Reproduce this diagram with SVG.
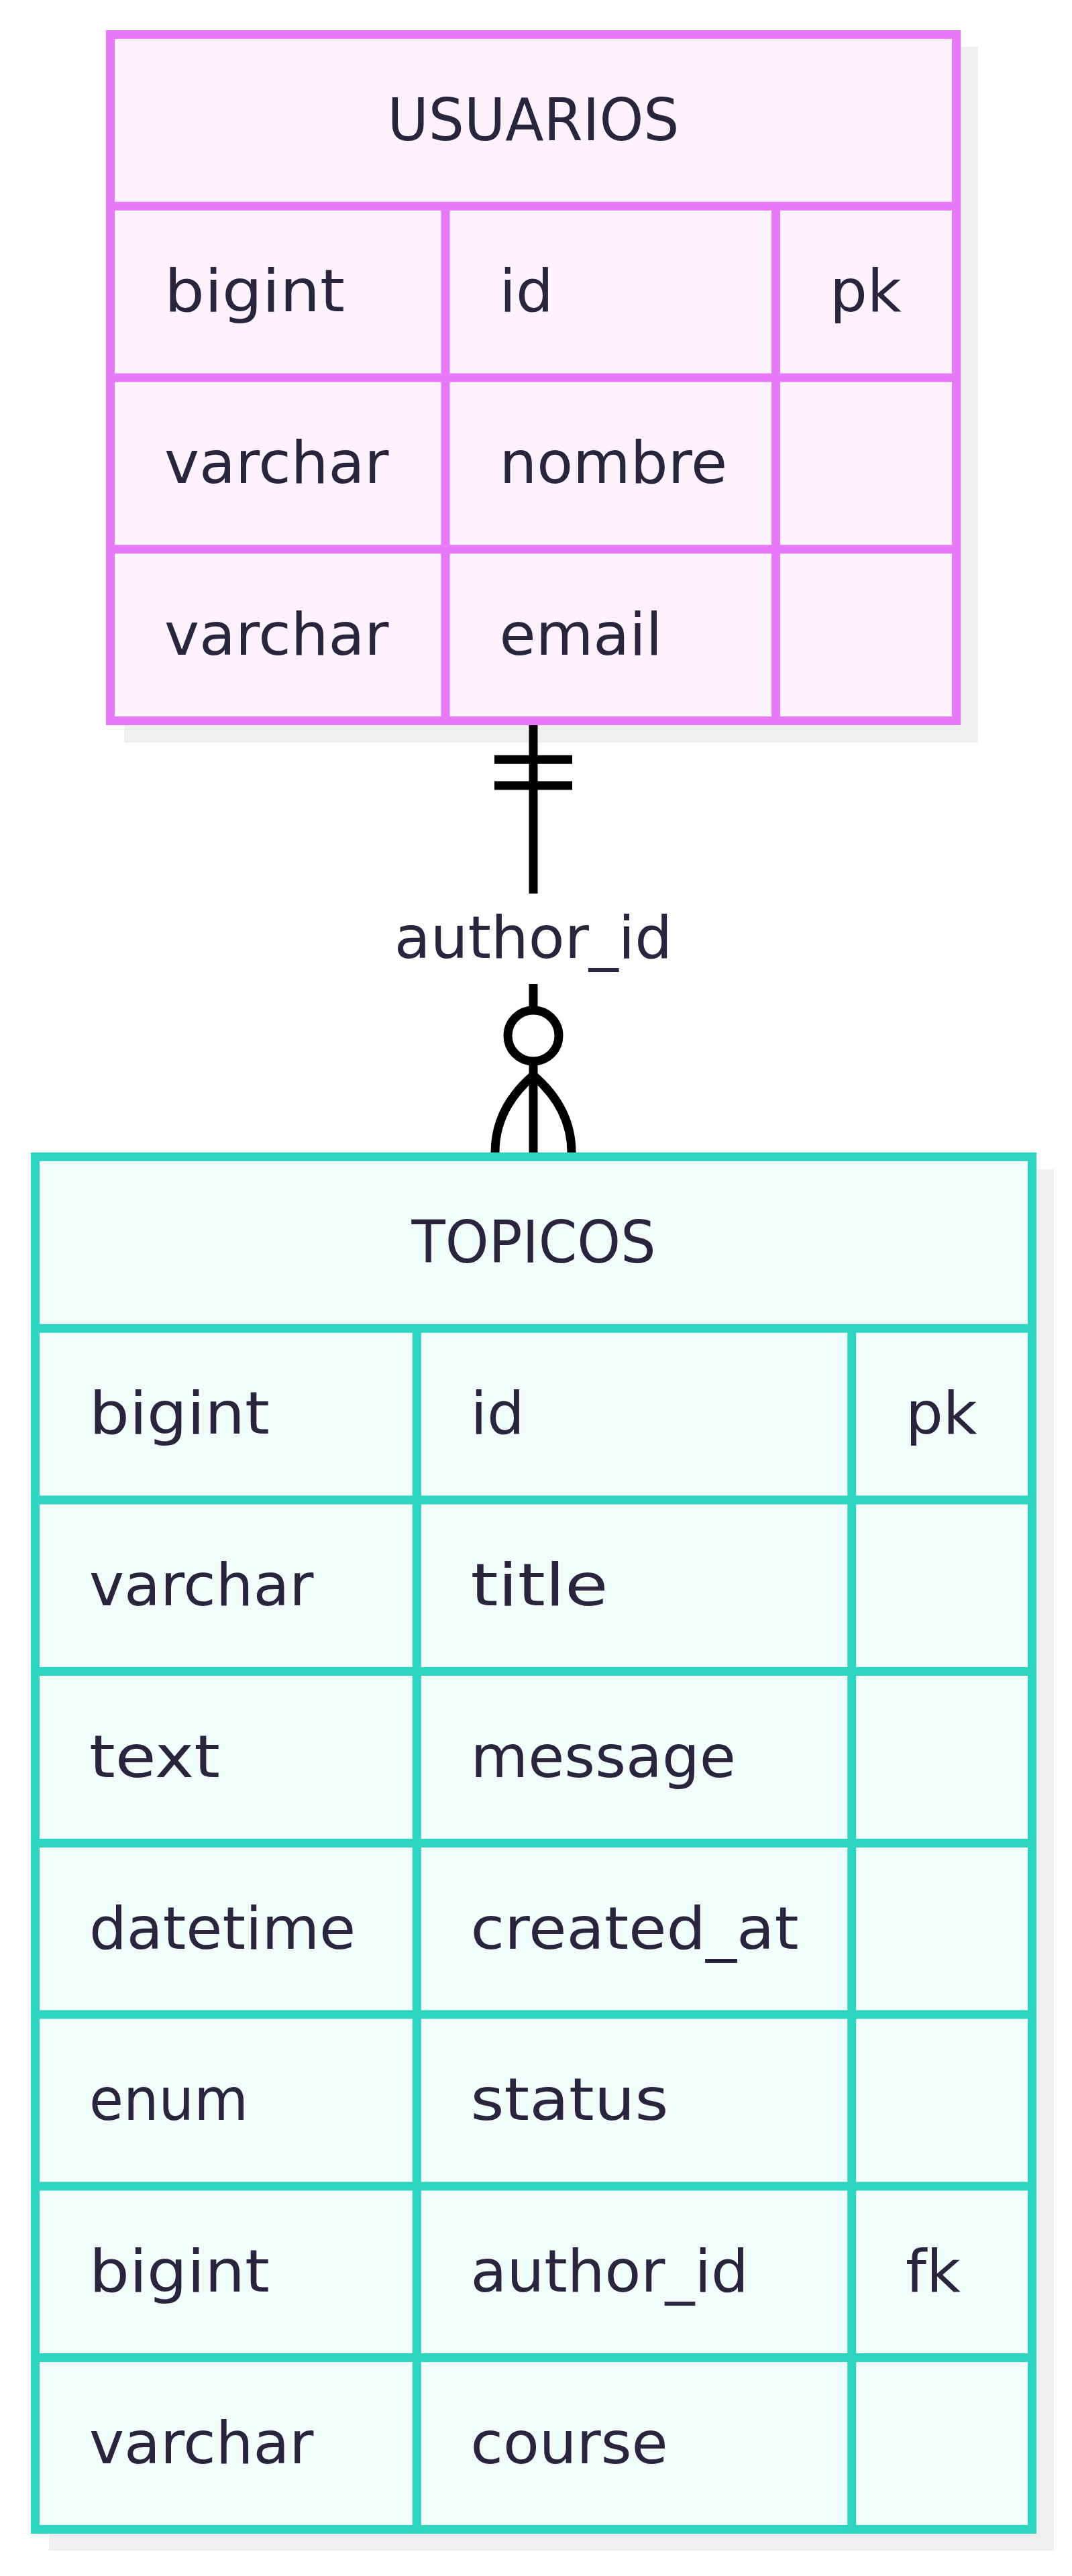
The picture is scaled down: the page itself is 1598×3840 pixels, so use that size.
<svg xmlns="http://www.w3.org/2000/svg" width="1598" height="3840" viewBox="0 0 1598 3840">
<style>
.shadow{fill:#efefef;stroke:none}
.u-box{fill:#fdf2fd;stroke:#e879f9;stroke-width:13}
.u-line{stroke:#e879f9;stroke-width:13;fill:none}
.t-box{fill:#f0fdfa;stroke:#2dd4bf;stroke-width:13}
.t-line{stroke:#2dd4bf;stroke-width:13;fill:none}
text{font-family:"DejaVu Sans","Noto Sans",sans-serif;font-size:88px;fill:#29253d}
.h{text-anchor:middle}
.conn{stroke:#000;stroke-width:13;fill:none}
</style>
<rect width="1598" height="3840" fill="#ffffff"/>
<g id="USUARIOS">
<rect class="shadow" x="185" y="70" width="1273" height="1037"/>
<rect class="u-box" x="164.5" y="51.5" width="1261" height="1023"/>
<path class="u-line" d="M164.5 307.25H1425.5M164.5 563H1425.5M164.5 818.75H1425.5M664 307.25V1074.5M1156.5 307.25V1074.5"/>
<text class="h" x="795" y="208.5" textLength="435" lengthAdjust="spacingAndGlyphs">USUARIOS</text>
<text x="245" y="464" textLength="269" lengthAdjust="spacingAndGlyphs">bigint</text>
<text x="744.5" y="464">id</text>
<text x="1237" y="464">pk</text>
<text x="245" y="720">varchar</text>
<text x="744.5" y="720">nombre</text>
<text x="245" y="976">varchar</text>
<text x="744.5" y="976">email</text>
</g>
<g id="TOPICOS">
<rect class="shadow" x="73" y="1743" width="1498" height="2059"/>
<rect class="t-box" x="52.5" y="1724.4" width="1486" height="2046"/>
<path class="t-line" d="M52.5 1980.15H1538.5M52.5 2235.9H1538.5M52.5 2491.6H1538.5M52.5 2747.4H1538.5M52.5 3003.1H1538.5M52.5 3258.9H1538.5M52.5 3514.6H1538.5M621.3 1980.15V3770.4M1269.7 1980.15V3770.4"/>
<text class="h" x="795.5" y="1881.6" textLength="364" lengthAdjust="spacingAndGlyphs">TOPICOS</text>
<text x="133" y="2137.3" textLength="269" lengthAdjust="spacingAndGlyphs">bigint</text>
<text x="701.5" y="2137.3">id</text>
<text x="1350" y="2137.3">pk</text>
<text x="133" y="2393.1">varchar</text>
<text x="701.5" y="2393.1" textLength="205" lengthAdjust="spacingAndGlyphs">title</text>
<text x="133" y="2648.8" textLength="195" lengthAdjust="spacingAndGlyphs">text</text>
<text x="701.5" y="2648.8">message</text>
<text x="133" y="2904.6">datetime</text>
<text x="701.5" y="2904.6" textLength="489" lengthAdjust="spacingAndGlyphs">created_at</text>
<text x="133" y="3160.3" textLength="237" lengthAdjust="spacingAndGlyphs">enum</text>
<text x="701.5" y="3160.3" textLength="295" lengthAdjust="spacingAndGlyphs">status</text>
<text x="133" y="3416.1" textLength="269" lengthAdjust="spacingAndGlyphs">bigint</text>
<text x="701.5" y="3416.1">author_id</text>
<text x="1350" y="3416.1">fk</text>
<text x="133" y="3671.8">varchar</text>
<text x="701.5" y="3671.8">course</text>
</g>
<g id="connectors">
<path class="conn" d="M795 1081V1332M737 1132.3H853M737 1171H853"/>
<path class="conn" d="M795 1467V1718"/>
<circle class="conn" cx="795" cy="1544" r="38" style="fill:#ffffff"/>
<path class="conn" d="M795 1603Q738 1652 738 1718M795 1603Q852 1652 852 1718"/>
<text class="h" x="795" y="1428">author_id</text>
</g>
</svg>
